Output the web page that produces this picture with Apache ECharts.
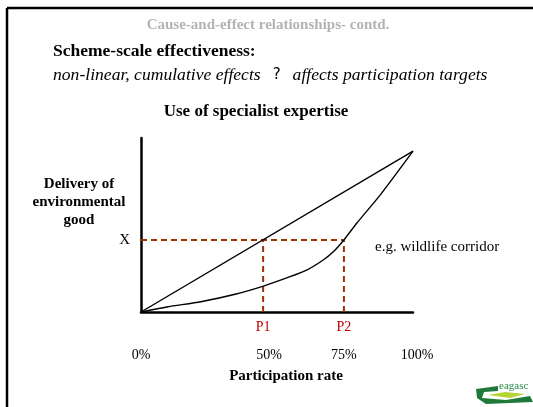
<!DOCTYPE html>
<html>
<head>
<meta charset="utf-8">
<script src="https://cdn.jsdelivr.net/npm/echarts@6/dist/echarts.min.js"></script>
<style>
  html, body { margin: 0; padding: 0; background: #fff; }
  #chart { width: 533px; height: 407px; }
</style>
</head>
<body>
<div id="chart"></div>
<script>
// x: position along the participation axis (0 = origin, 100 = end), y: delivery (0..100)
const linearLine = [[0, 0], [100, 92.5]];
const specialistCurve = [
  [0, 0], [10, 3], [22, 5.9], [34.6, 10.2], [45, 14.9], [54.8, 20.3],
  [60.9, 24.1], [67, 29.9], [70.7, 34.6], [74.6, 41.4], [79.3, 51],
  [87.9, 67.2], [100, 92.5]
];
const levelX = 41.4;
const p1 = 44.9;
const p2 = 74.6;

const pointPos = [p1, p2];
const pointLabels = ['P1', 'P2'];
const pctPos = [0, 47.1, 74.6, 100];
const pctLabels = ['0%', '50%', '75%', '100%'];

const serif = '"Liberation Serif", "DejaVu Serif", serif';
const guideColor = '#993300';

const chart = echarts.init(document.getElementById('chart'));

function guide(data) {
  return {
    type: 'line',
    data: data,
    symbol: 'none',
    silent: true,
    lineStyle: { color: guideColor, width: 2, type: [6, 4] },
    z: 1
  };
}

const option = {
  animation: false,
  backgroundColor: '#fff',
  title: [
    {
      text: 'Cause-and-effect relationships- contd.',
      left: 268, top: 18, textAlign: 'center', padding: 0,
      textStyle: { fontFamily: serif, fontSize: 15, fontWeight: 'bold', color: '#b3b3b3' }
    },
    {
      text: 'Scheme-scale effectiveness:',
      left: 53, top: 42, padding: 0,
      textStyle: { fontFamily: serif, fontSize: 17.5, fontWeight: 'bold', color: '#000' }
    },
    {
      text: '{i|non-linear, cumulative effects}{q|?}{i|affects participation targets}',
      left: 53, top: 66, padding: 0,
      textStyle: {
        rich: {
          i: { fontFamily: serif, fontSize: 17.6, fontStyle: 'italic', fontWeight: 'normal', color: '#000' },
          q: { fontFamily: '"DejaVu Sans", sans-serif', fontSize: 15, fontWeight: 'normal', color: '#000', padding: [0, 12, 0, 12] }
        }
      }
    },
    {
      text: 'Use of specialist expertise',
      left: 256, top: 103, textAlign: 'center', padding: 0,
      textStyle: { fontFamily: serif, fontSize: 17, fontWeight: 'bold', color: '#000' }
    },
    {
      text: 'Delivery of\nenvironmental\ngood',
      left: 79, top: 175, textAlign: 'center', padding: 0,
      textStyle: { fontFamily: serif, fontSize: 15, fontWeight: 'bold', color: '#000', lineHeight: 18 }
    },
    {
      text: 'e.g. wildlife corridor',
      left: 375, top: 240, padding: 0,
      textStyle: { fontFamily: serif, fontSize: 15, fontWeight: 'normal', color: '#000' }
    }
  ],
  grid: { left: 141, right: 120, top: 138, bottom: 95 },
  xAxis: [
    {
      type: 'value', min: 0, max: 100,
      axisLine: { lineStyle: { color: '#000', width: 2.5 } },
      axisTick: { show: false },
      splitLine: { show: false },
      axisLabel: {
        customValues: pointPos,
        formatter: v => pointLabels[pointPos.indexOf(v)] || '',
        color: '#c00000', fontFamily: serif, fontSize: 14, margin: 8
      }
    },
    {
      type: 'value', min: 0, max: 100, position: 'bottom',
      axisLine: { show: false },
      axisTick: { show: false },
      splitLine: { show: false },
      axisLabel: {
        customValues: pctPos,
        formatter: v => {
          const t = pctLabels[pctPos.indexOf(v)] || '';
          return v === 100 ? '{r|' + t + '}' : t;
        },
        rich: { r: { fontFamily: serif, fontSize: 14, color: '#000', padding: [0, 0, 0, 8] } },
        color: '#000', fontFamily: serif, fontSize: 14, margin: 36
      },
      name: 'Participation rate',
      nameLocation: 'middle', nameGap: 57,
      nameTextStyle: { fontFamily: serif, fontSize: 15, fontWeight: 'bold', color: '#000', padding: [0, 0, 0, 18] }
    }
  ],
  yAxis: {
    type: 'value', min: 0, max: 100,
    axisLine: { show: true, lineStyle: { color: '#000', width: 2.5 } },
    axisTick: { show: false },
    splitLine: { show: false },
    axisLabel: {
      customValues: [levelX],
      formatter: () => 'X',
      color: '#000', fontFamily: serif, fontSize: 15, margin: 11
    }
  },
  series: [
    guide([[0, levelX], [p2, levelX]]),
    guide([[p1, 0], [p1, levelX]]),
    guide([[p2, 0], [p2, levelX]]),
    {
      type: 'line', data: linearLine, symbol: 'none',
      lineStyle: { color: '#000', width: 1.4 }, z: 3
    },
    {
      type: 'line', data: specialistCurve, symbol: 'none', smooth: 0.2,
      lineStyle: { color: '#000', width: 1.4 }, z: 3
    }
  ],
  graphic: [
    { type: 'line', shape: { x1: 7, y1: 8, x2: 533, y2: 8 }, style: { stroke: '#000', lineWidth: 2.5 } },
    { type: 'line', shape: { x1: 7, y1: 8, x2: 7, y2: 407 }, style: { stroke: '#000', lineWidth: 2.5 } },
    // small logo, bottom right
    { type: 'polygon', shape: { points: [[476, 389], [498, 386], [498, 391], [484, 392], [482, 398], [506, 400], [530, 396], [533, 402], [486, 404], [477, 398]] },
      style: { fill: '#1f7a3a' } },
    { type: 'polygon', shape: { points: [[488, 395], [505, 392], [525, 394], [510, 398]] }, style: { fill: '#b5d334' } },
    { type: 'text', left: 499, top: 381, style: { text: 'eagasc', fill: '#2f8a4c', font: '11px ' + serif } }
  ]
};

chart.setOption(option);
</script>
</body>
</html>
